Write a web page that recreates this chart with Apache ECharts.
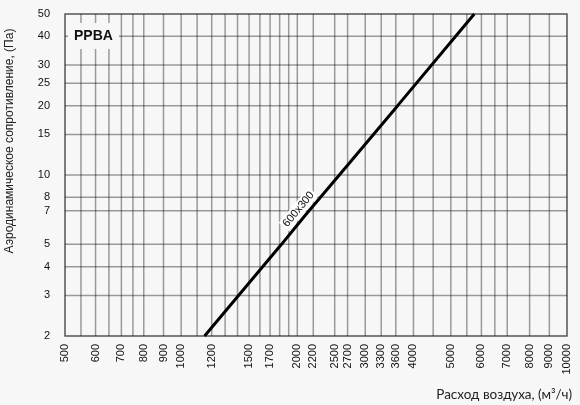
<!DOCTYPE html>
<html>
<head>
<meta charset="utf-8">
<script src="https://cdn.jsdelivr.net/npm/echarts@6/dist/echarts.min.js"></script>
<style>
html,body{margin:0;padding:0;background:#f7f7f7;}
#c{width:580px;height:405px;}
</style>
</head>
<body>
<div id="c"></div>
<script>
// ---- data ----
var xMin = 500, xMax = 10000;
var yMin = 2, yMax = 50;
var xGridValues = [550,600,650,700,750,800,900,1000,1100,1200,1300,1400,1500,1600,1700,1800,1900,2000,2200,2500,2700,3000,3300,3600,4000,4500,5000,5500,6000,6500,7000,8000,9000];
var xLabelValues = [500,600,700,800,900,1000,1200,1500,1700,2000,2200,2500,2700,3000,3300,3600,4000,5000,6000,7000,8000,9000,10000];
var yGridValues = [3,4,5,7,8,10,15,20,25,30,40];
var yLabelValues = [2,3,4,5,7,8,10,15,20,25,30,40,50];
var lineFlow = [1150,1820,2100,2570,3640,5750];
var linePressure = [2,5,6.7,10,20,50];
var lineName = '600x300';
var labelIndex = 2;

var FONT = '"Liberation Sans", Arial, sans-serif';
var GRID_STROKE = 'rgba(0,0,0,0.38)';
var chart = echarts.init(document.getElementById('c'));

var lineData = lineFlow.map(function (q, i) {
  var item = { value: [q, linePressure[i]] };
  if (i === labelIndex) {
    item.label = {
      show: true, formatter: lineName, position: 'inside', rotate: 50,
      offset: [0, -9], color: '#111', fontSize: 11, fontFamily: FONT,
      backgroundColor: '#ffffff', padding: [1, 2]
    };
  }
  return item;
});

chart.setOption({
  animation: false,
  backgroundColor: '#f7f7f7',
  title: {
    text: 'PPBA', left: 68, top: 23, padding: [6, 6],
    backgroundColor: '#f7f7f7',
    textStyle: { fontSize: 14, fontWeight: 'bold', color: '#111', fontFamily: FONT }
  },
  grid: {
    left: 65, right: 13, top: 14, bottom: 69,
    show: true, borderColor: '#555', borderWidth: 1.5, backgroundColor: 'transparent',
    containLabel: false, outerBoundsMode: 'none'
  },
  xAxis: {
    type: 'log', logBase: 10, min: xMin, max: xMax,
    axisLine: { show: false }, axisTick: { show: false }, axisLabel: { show: false },
    splitLine: { show: false }, minorTick: { show: false }, minorSplitLine: { show: false }
  },
  yAxis: {
    type: 'log', logBase: 10, min: yMin, max: yMax,
    axisLine: { show: false }, axisTick: { show: false }, axisLabel: { show: false },
    splitLine: { show: false }, minorTick: { show: false }, minorSplitLine: { show: false }
  },
  graphic: [
    { type: 'text', x: 10, y: 141, rotation: Math.PI / 2,
      style: { text: 'Аэродинамическое сопротивление, (Па)', align: 'center', verticalAlign: 'middle',
               fill: '#222', font: '12px ' + FONT } },
    { type: 'text', x: 572, y: 395,
      style: { text: 'Расход воздуха, (м³/ч)', align: 'right', verticalAlign: 'middle',
               fill: '#222', font: '13.5px Lato, "Open Sans", sans-serif' } }
  ],
  series: [
    { type: 'custom', silent: true, z: 1,
      data: xGridValues.map(function (v) { return [v, yMin]; }),
      renderItem: function (params, api) {
        var a = api.coord([api.value(0), yMin]);
        var b = api.coord([api.value(0), yMax]);
        return { type: 'line', shape: { x1: a[0], y1: a[1], x2: b[0], y2: b[1] },
                 style: { stroke: GRID_STROKE, lineWidth: 1.5 } };
      }
    },
    { type: 'custom', silent: true, z: 1,
      data: yGridValues.map(function (v) { return [xMin, v]; }),
      renderItem: function (params, api) {
        var a = api.coord([xMin, api.value(1)]);
        var b = api.coord([xMax, api.value(1)]);
        return { type: 'line', shape: { x1: a[0], y1: a[1], x2: b[0], y2: b[1] },
                 style: { stroke: GRID_STROKE, lineWidth: 1.5 } };
      }
    },
    { type: 'custom', silent: true, z: 3,
      data: xLabelValues.map(function (v) { return [v, yMin]; }),
      renderItem: function (params, api) {
        var p = api.coord([api.value(0), yMin]);
        return { type: 'text', x: p[0], y: p[1] + 8, rotation: Math.PI / 2,
                 style: { text: String(api.value(0)), align: 'right', verticalAlign: 'middle',
                          fill: '#111', font: '11px ' + FONT } };
      }
    },
    { type: 'custom', silent: true, z: 3,
      data: yLabelValues.map(function (v) { return [xMin, v]; }),
      renderItem: function (params, api) {
        var p = api.coord([xMin, api.value(1)]);
        return { type: 'text', x: p[0] - 15, y: p[1],
                 style: { text: String(api.value(1)), align: 'right', verticalAlign: 'middle',
                          fill: '#111', font: '11px ' + FONT } };
      }
    },
    { type: 'line', name: lineName, z: 5, data: lineData,
      showSymbol: true, symbol: 'circle', symbolSize: 0,
      lineStyle: { color: '#000', width: 3 }, itemStyle: { color: '#000' }
    }
  ]
});
</script>
</body>
</html>
